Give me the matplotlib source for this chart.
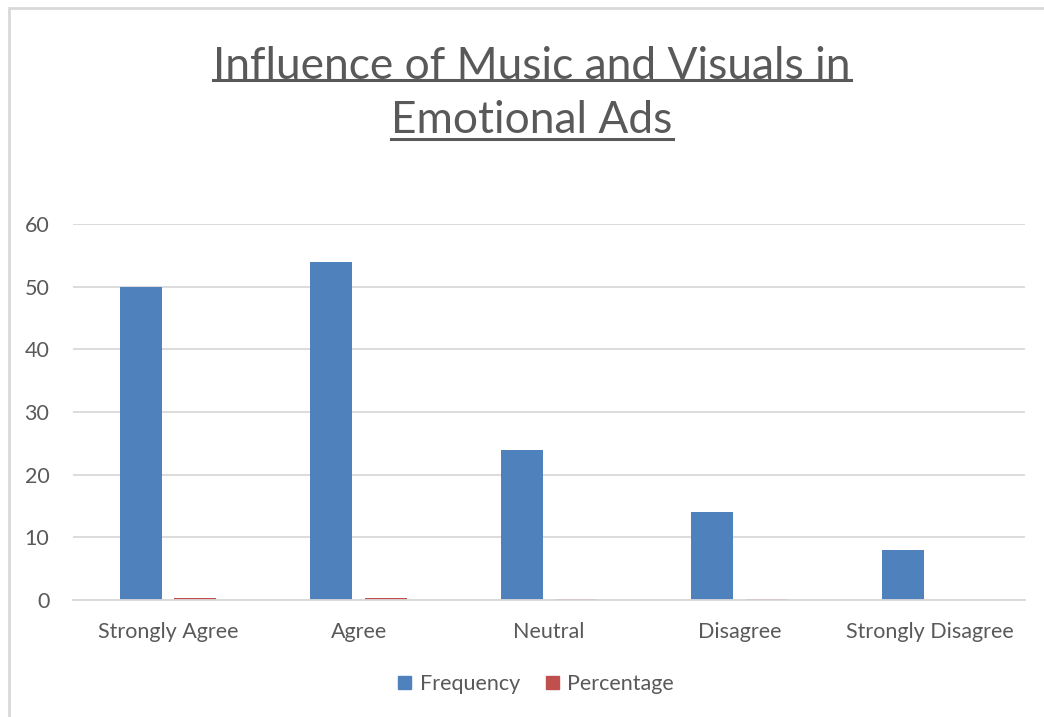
import matplotlib
matplotlib.use("Agg")
import matplotlib.pyplot as plt
from matplotlib.patches import Rectangle
from matplotlib.lines import Line2D
import numpy as np

# survey responses
categories = ["Strongly Agree", "Agree", "Neutral", "Disagree", "Strongly Disagree"]
frequency = [50, 54, 24, 14, 8]
percentage = [0.33, 0.36, 0.16, 0.09, 0.05]

BLUE = "#4F81BD"
RED = "#C0504D"
TXT = "#595959"
GRID = "#D9D9D9"

plt.rcParams["font.family"] = ["Lato", "DejaVu Sans"]

fig = plt.figure(figsize=(10.44, 7.17), dpi=100)
W, H = 1044, 717

# outer chart border (only left and top visible)
fig.add_artist(Rectangle((9 / W, -0.1), 1.2, 1 - 8 / H + 0.1, transform=fig.transFigure,
                         fill=False, edgecolor=GRID, linewidth=2))

ax = fig.add_axes([73 / W, 1 - 600 / H, (1025 - 73) / W, (600 - 224) / H])
x = np.arange(len(categories))
bw = 0.22
off = 0.143
ax.bar(x - off, frequency, bw, color=BLUE, label="Frequency", zorder=3)
ax.bar(x + off, percentage, bw, color=RED, label="Percentage", zorder=3)

ax.set_xlim(-0.5, len(categories) - 0.5)
ax.set_ylim(0, 60)
ax.set_yticks(range(0, 61, 10))
ax.yaxis.grid(True, color=GRID, linewidth=1.3, zorder=0)
ax.set_xticks(x)
ax.set_xticklabels(categories)
ax.tick_params(axis="both", length=0, labelsize=15.5, colors=TXT)
ax.tick_params(axis="y", pad=17)
ax.tick_params(axis="x", pad=16)
for s in ["top", "right", "left"]:
    ax.spines[s].set_visible(False)
ax.spines["bottom"].set_color(GRID)
ax.spines["bottom"].set_linewidth(1.3)
ax.spines["bottom"].set_zorder(4)

handles = [Rectangle((0, 0), 1, 1, color=BLUE), Rectangle((0, 0), 1, 1, color=RED)]
fig.legend(handles, ["Frequency", "Percentage"], loc="center", bbox_to_anchor=(536 / W, 1 - 684 / H),
           ncol=2, frameon=False, fontsize=15.5, labelcolor=TXT, handlelength=0.6, handleheight=0.6,
           handletextpad=0.4, columnspacing=1.2)

# title, two centered lines with underline
renderer = fig.canvas.get_renderer()
size = 30
t1 = fig.text(532 / W, 1 - 79 / H, "Influence of Music and Visuals in", ha="center", va="baseline",
              fontsize=size, color=TXT)
bb = t1.get_window_extent(renderer)
size = size * 637 / bb.width
t1.set_fontsize(size)
t2 = fig.text(532 / W, 1 - 133 / H, "Emotional Ads", ha="center", va="baseline", fontsize=size, color=TXT)
for t, uy in [(t1, 80), (t2, 139)]:
    bb = t.get_window_extent(renderer)
    fig.add_artist(Line2D([bb.x0 / W, bb.x1 / W], [1 - uy / H, 1 - uy / H], transform=fig.transFigure,
                          color=TXT, linewidth=2.2))

fig.savefig("out.png", dpi=100)
